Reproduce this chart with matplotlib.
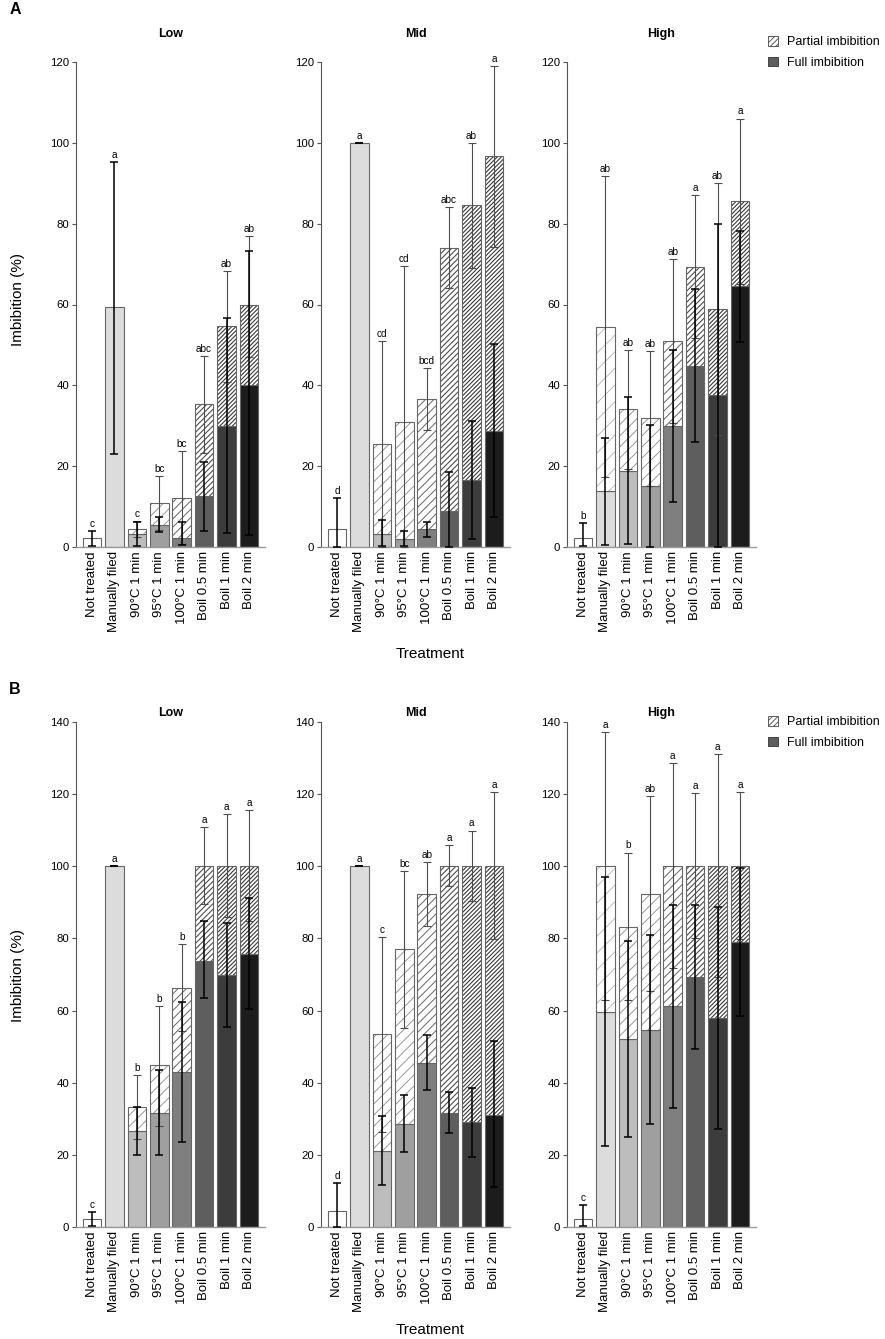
import numpy as np
import matplotlib
matplotlib.use('Agg')
import matplotlib.pyplot as plt
from matplotlib.patches import Patch

plt.rcParams['font.family'] = ['Liberation Sans', 'DejaVu Sans']
plt.rcParams['hatch.linewidth'] = 0.6

nan = np.nan

treatments = ['Not treated', 'Manually filed', '90°C 1 min', '95°C 1 min',
              '100°C 1 min', 'Boil 0.5 min', 'Boil 1 min', 'Boil 2 min']

# ---- A: Low ----
a_low_full = [2.2, 59.3, 3.2, 5.5, 2.2, 12.5, 30.0, 40.0]
a_low_total = [2.2, 59.3, 4.4, 10.9, 12.2, 35.3, 54.6, 60.0]
a_low_full_lo = [0.3, 23.0, 0.3, 3.6, 0.4, 3.9, 3.4, 2.9]
a_low_full_hi = [4.0, 95.3, 6.1, 7.5, 6.1, 21.1, 56.6, 73.3]
a_low_tot_lo = [nan, nan, 2.4, 4.3, 0.7, 23.3, 40.9, 47.0]
a_low_tot_hi = [nan, nan, 6.5, 17.5, 23.7, 47.3, 68.3, 77.0]
a_low_letters = ['c', 'a', 'c', 'bc', 'bc', 'abc', 'ab', 'ab']

# ---- A: Mid ----
a_mid_full = [4.5, 100, 3.2, 2.0, 4.4, 9.0, 16.5, 28.7]
a_mid_total = [4.5, 100, 25.4, 30.9, 36.6, 74.1, 84.5, 96.7]
a_mid_full_lo = [0.0, 100, 0.3, 0.3, 2.4, 0.0, 2.1, 7.4]
a_mid_full_hi = [12.2, 100, 6.7, 4.0, 6.3, 18.6, 31.1, 50.2]
a_mid_tot_lo = [nan, nan, 0.0, 0.0, 29.0, 64.2, 69.0, 74.3]
a_mid_tot_hi = [nan, nan, 50.9, 69.6, 44.3, 84.1, 100.0, 118.9]
a_mid_letters = ['d', 'a', 'cd', 'cd', 'bcd', 'abc', 'ab', 'a']

# ---- A: High ----
a_high_full = [2.2, 13.8, 18.9, 15.2, 30.0, 44.9, 37.7, 64.5]
a_high_total = [2.2, 54.5, 34.1, 31.8, 50.9, 69.2, 58.8, 85.5]
a_high_full_lo = [0.3, 0.6, 0.8, 0.1, 11.2, 26.0, 0.0, 50.6]
a_high_full_hi = [5.9, 26.9, 37.2, 30.3, 48.8, 63.9, 80.0, 78.3]
a_high_tot_lo = [nan, 17.2, 19.4, 15.2, 30.6, 51.6, 27.8, 65.0]
a_high_tot_hi = [nan, 91.7, 48.8, 48.4, 71.3, 87.0, 90.0, 106.0]
a_high_letters = ['b', 'ab', 'ab', 'ab', 'ab', 'a', 'ab', 'a']

# ---- B: Low ----
b_low_full = [2.2, 100, 26.6, 31.7, 42.9, 73.8, 69.8, 75.7]
b_low_total = [2.2, 100, 33.3, 44.8, 66.3, 100, 100, 100]
b_low_full_lo = [0.3, 100, 20.0, 20.0, 23.6, 63.4, 55.5, 60.4]
b_low_full_hi = [4.1, 100, 33.3, 43.5, 62.3, 84.7, 84.2, 91.1]
b_low_tot_lo = [nan, nan, 24.5, 28.0, 54.4, 89.5, 85.9, 84.7]
b_low_tot_hi = [nan, nan, 42.1, 61.3, 78.4, 110.9, 114.5, 115.6]
b_low_letters = ['c', 'a', 'b', 'b', 'b', 'a', 'a', 'a']

# ---- B: Mid ----
b_mid_full = [4.4, 100, 21.1, 28.5, 45.4, 31.7, 29.0, 31.1]
b_mid_total = [4.4, 100, 53.4, 77.2, 92.4, 100, 100, 100]
b_mid_full_lo = [0.0, 100, 11.6, 20.8, 38.0, 26.0, 19.5, 11.0]
b_mid_full_hi = [12.2, 100, 30.7, 36.6, 53.3, 37.5, 38.6, 51.6]
b_mid_tot_lo = [nan, nan, 26.4, 55.3, 83.5, 94.5, 90.5, 79.9]
b_mid_tot_hi = [nan, nan, 80.3, 98.7, 101.1, 105.9, 109.9, 120.5]
b_mid_letters = ['d', 'a', 'c', 'bc', 'ab', 'a', 'a', 'a']

# ---- B: High ----
b_high_full = [2.2, 59.6, 52.0, 54.7, 61.2, 69.3, 57.9, 79.1]
b_high_total = [2.2, 100, 83.2, 92.4, 100, 100, 100, 100]
b_high_full_lo = [0.3, 22.4, 24.9, 28.6, 33.0, 49.3, 27.2, 58.6]
b_high_full_hi = [6.1, 96.9, 79.4, 81.0, 89.4, 89.4, 88.6, 99.6]
b_high_tot_lo = [nan, 62.9, 62.8, 65.3, 71.9, 80.1, 69.3, 79.9]
b_high_tot_hi = [nan, 137.3, 103.8, 119.5, 128.5, 120.2, 131.0, 120.5]
b_high_letters = ['c', 'a', 'b', 'ab', 'a', 'a', 'a', 'a']

# styles
full_cols = ['white', '#dcdcdc', '#bdbdbd', '#9f9f9f', '#7f7f7f', '#5e5e5e', '#3c3c3c', '#1c1c1c']
hatches = ['', '//', '///', '///', '////', '//////', '////////', '////////']
hatch_cols = ['#bbbbbb', '#b5b5b5', '#8a8a8a', '#8a8a8a', '#666666', '#444444', '#3a3a3a', '#3a3a3a']
hatch_lws = [0.6, 0.6, 0.6, 0.6, 0.7, 0.75, 0.8, 0.8]
edge = '#666666'


def panel(ax, full, total, full_lo, full_hi, tot_lo, tot_hi, letters, ymax, title, title_y):
    x = np.arange(len(treatments)) * 1.2
    full = np.array(full, float)
    total = np.array(total, float)
    full_lo = np.array(full_lo, float)
    full_hi = np.array(full_hi, float)
    tot_lo = np.array(tot_lo, float)
    tot_hi = np.array(tot_hi, float)
    part = total - full

    ax.bar(x, full, width=1, color=full_cols, edgecolor=edge, linewidth=0.8, zorder=2)
    for xi, b, h, hat, hc, hlw in zip(x, full, part, hatches, hatch_cols, hatch_lws):
        if h <= 0:
            continue
        with plt.rc_context({'hatch.linewidth': hlw}):
            ax.bar(xi, h, bottom=b, width=1, color='white', edgecolor=hc, hatch=hat,
                   linewidth=0, zorder=2)
        ax.bar(xi, h, bottom=b, width=1, fill=False, edgecolor=edge, linewidth=0.8, zorder=2)

    m = ~np.isnan(tot_lo)
    ax.errorbar(x[m], total[m], yerr=[total[m] - tot_lo[m], tot_hi[m] - total[m]],
                fmt='none', ecolor='#4d4d4d', elinewidth=0.8, capsize=3, capthick=0.8,
                zorder=3, clip_on=False)
    ax.errorbar(x, full, yerr=[full - full_lo, full_hi - full], fmt='none', ecolor='black',
                elinewidth=1.1, capsize=3, capthick=1.1, zorder=4, clip_on=False)

    top = np.fmax(full_hi, tot_hi)
    for xi, t, lab in zip(x, top, letters):
        ax.annotate(lab, (xi, t), xytext=(0, 1.5), textcoords='offset points',
                    ha='center', va='bottom', fontsize=7.2, annotation_clip=False)

    ax.set_xlim(-0.86, 9.26)
    ax.set_ylim(0, ymax)
    ax.set_yticks(np.arange(0, ymax + 1, 20))
    ax.spines['left'].set_bounds(0, ymax)
    ax.spines['top'].set_visible(False)
    ax.spines['right'].set_visible(False)
    ax.spines['left'].set_color('#555555')
    ax.spines['bottom'].set_color('#999999')
    ax.spines['left'].set_linewidth(0.8)
    ax.spines['bottom'].set_linewidth(1.0)
    ax.set_xticks(x)
    ax.set_xticklabels(treatments, rotation=90, fontsize=9.5)
    ax.tick_params(axis='x', length=0, pad=3)
    ax.tick_params(axis='y', length=3, color='#555555', labelsize=8.2, pad=2)
    ax.text(0.5, title_y, title, transform=ax.transAxes, ha='center', va='center',
            fontweight='bold', fontsize=9)


W, H = 885, 1339
fig = plt.figure(figsize=(W / 100, H / 100), dpi=100)

lefts = [76, 321, 567]
aw = 189
rows = [(62, 547, 120, 1.058), (722, 1227, 140, 1.018)]

panels_a = [
    (a_low_full, a_low_total, a_low_full_lo, a_low_full_hi, a_low_tot_lo, a_low_tot_hi, a_low_letters, 'Low'),
    (a_mid_full, a_mid_total, a_mid_full_lo, a_mid_full_hi, a_mid_tot_lo, a_mid_tot_hi, a_mid_letters, 'Mid'),
    (a_high_full, a_high_total, a_high_full_lo, a_high_full_hi, a_high_tot_lo, a_high_tot_hi, a_high_letters, 'High'),
]
panels_b = [
    (b_low_full, b_low_total, b_low_full_lo, b_low_full_hi, b_low_tot_lo, b_low_tot_hi, b_low_letters, 'Low'),
    (b_mid_full, b_mid_total, b_mid_full_lo, b_mid_full_hi, b_mid_tot_lo, b_mid_tot_hi, b_mid_letters, 'Mid'),
    (b_high_full, b_high_total, b_high_full_lo, b_high_full_hi, b_high_tot_lo, b_high_tot_hi, b_high_letters, 'High'),
]

for (ytop, ybot, ymax, ty), group in zip(rows, [panels_a, panels_b]):
    for left, p in zip(lefts, group):
        ax = fig.add_axes([left / W, 1 - ybot / H, aw / W, (ybot - ytop) / H])
        panel(ax, *p[:7], ymax=ymax, title=p[7], title_y=ty)

# axis titles, panel letters
for yl, yt, yp, lt in [(300, 654, 9, 'A'), (975, 1330, 689, 'B')]:
    fig.text(18 / W, 1 - yl / H, 'Imbibition (%)', rotation=90, ha='center', va='center', fontsize=11)
    fig.text(430 / W, 1 - yt / H, 'Treatment', ha='center', va='center', fontsize=11)
    fig.text(15 / W, 1 - yp / H, lt, ha='center', va='center', fontsize=11.5, fontweight='bold')

with plt.rc_context({'hatch.linewidth': 0.7}):
    handles = [Patch(facecolor='white', edgecolor='#444444', hatch='//////', linewidth=0.6,
                     label='Partial imbibition'),
               Patch(facecolor='#5e5e5e', edgecolor='#333333', linewidth=0.6, label='Full imbibition')]
for ly in [36, 716]:
    fig.legend(handles=handles, loc='upper left', bbox_to_anchor=(768 / W, 1 - ly / H),
               frameon=False, fontsize=9, handlelength=0.8, handleheight=0.8,
               handletextpad=0.7, labelspacing=0.7, borderaxespad=0, borderpad=0)

fig.savefig('out.png', dpi=100)
